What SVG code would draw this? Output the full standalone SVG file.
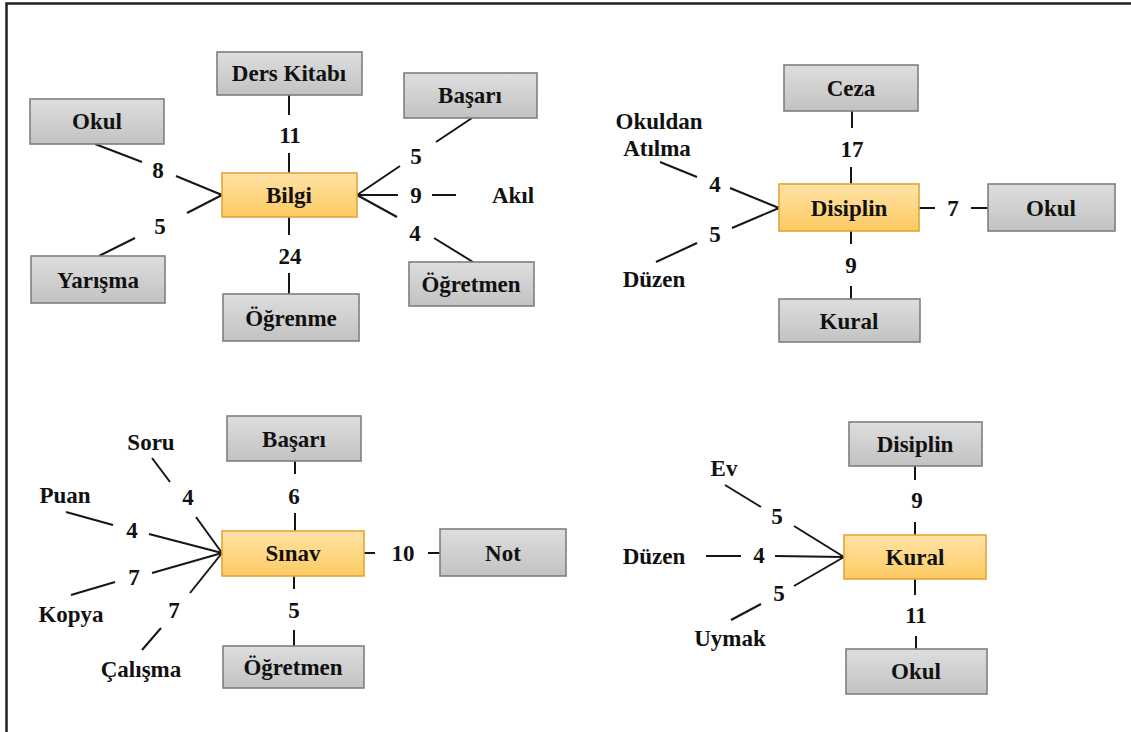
<svg xmlns="http://www.w3.org/2000/svg" width="1131" height="732" viewBox="0 0 1131 732" font-family="'Liberation Serif', 'DejaVu Serif', 'Times New Roman', serif">
<defs>
<linearGradient id="gGray" x1="0" y1="0" x2="0" y2="1">
<stop offset="0" stop-color="#dedede"/>
<stop offset="1" stop-color="#c2c2c2"/>
</linearGradient>
<linearGradient id="gOrange" x1="0" y1="0" x2="0" y2="1">
<stop offset="0" stop-color="#ffe3a6"/>
<stop offset="1" stop-color="#fdca62"/>
</linearGradient>
</defs>
<style>
.box{fill:url(#gGray);stroke:#7f7f7f;stroke-width:1.6}
.hub{fill:url(#gOrange);stroke:#e3a43a;stroke-width:1.6}
text{font-family:'Liberation Serif','DejaVu Serif','Times New Roman',serif;font-weight:bold;font-size:23px;fill:#111;text-anchor:middle;dominant-baseline:central}
.c line{stroke:#161616;stroke-width:2}
.frame{stroke:#222;stroke-width:2.5;fill:none}
</style>
<rect x="0" y="0" width="1131" height="732" fill="#fff"/>
<path class="frame" d="M6.5 732 V3.5 H1131"/>

<g id="connectors" class="c">
<line x1="289" y1="95" x2="289" y2="115"/>
<line x1="289" y1="153" x2="289" y2="173"/>
<line x1="289" y1="217" x2="289" y2="235"/>
<line x1="289" y1="273" x2="289" y2="294"/>
<line x1="95" y1="144" x2="142" y2="162"/>
<line x1="176" y1="176" x2="222" y2="195"/>
<line x1="222" y1="195" x2="187" y2="213"/>
<line x1="135" y1="238" x2="99" y2="256"/>
<line x1="472" y1="118" x2="436" y2="142"/>
<line x1="400" y1="166" x2="357" y2="195"/>
<line x1="357" y1="195" x2="398" y2="195"/>
<line x1="432" y1="195" x2="456" y2="195"/>
<line x1="357" y1="195" x2="397" y2="217"/>
<line x1="434" y1="238" x2="473" y2="262"/>
<line x1="852" y1="111" x2="852" y2="128"/>
<line x1="851" y1="167" x2="851" y2="184"/>
<line x1="851" y1="231" x2="851" y2="244"/>
<line x1="851" y1="286" x2="851" y2="299"/>
<line x1="919" y1="208" x2="935" y2="208"/>
<line x1="971" y1="208" x2="988" y2="208"/>
<line x1="660" y1="162" x2="697" y2="177"/>
<line x1="730" y1="188" x2="779" y2="208"/>
<line x1="779" y1="208" x2="732" y2="228"/>
<line x1="697" y1="243" x2="656" y2="262"/>
<line x1="152" y1="458" x2="170" y2="482"/>
<line x1="196" y1="517" x2="222" y2="553"/>
<line x1="66" y1="512" x2="113" y2="525"/>
<line x1="149" y1="534" x2="222" y2="553"/>
<line x1="71" y1="595" x2="115" y2="582"/>
<line x1="152" y1="573" x2="222" y2="553"/>
<line x1="142" y1="650" x2="161" y2="628"/>
<line x1="190" y1="593" x2="222" y2="553"/>
<line x1="295" y1="461" x2="295" y2="474"/>
<line x1="295" y1="513" x2="295" y2="531"/>
<line x1="294" y1="576" x2="294" y2="589"/>
<line x1="294" y1="630" x2="294" y2="646"/>
<line x1="364" y1="553" x2="375" y2="553"/>
<line x1="428" y1="553" x2="440" y2="553"/>
<line x1="725" y1="485" x2="761" y2="507"/>
<line x1="794" y1="526" x2="844" y2="557"/>
<line x1="706" y1="556" x2="741" y2="556"/>
<line x1="775" y1="556" x2="844" y2="557"/>
<line x1="731" y1="620" x2="761" y2="604"/>
<line x1="794" y1="586" x2="844" y2="557"/>
<line x1="915" y1="466" x2="915" y2="480"/>
<line x1="915" y1="522" x2="915" y2="535"/>
<line x1="915" y1="579" x2="915" y2="595"/>
<line x1="916" y1="636" x2="916" y2="649"/>
</g>

<g id="edge-labels">
<text x="290" y="135">11</text>
<text x="158" y="170">8</text>
<text x="160" y="226">5</text>
<text x="416" y="156">5</text>
<text x="416" y="195">9</text>
<text x="415" y="233">4</text>
<text x="290" y="256">24</text>
<text x="715" y="184">4</text>
<text x="715" y="234">5</text>
<text x="852" y="149">17</text>
<text x="851" y="265">9</text>
<text x="953" y="208">7</text>
<text x="188" y="497">4</text>
<text x="132" y="530">4</text>
<text x="134" y="577">7</text>
<text x="174" y="610">7</text>
<text x="294" y="496">6</text>
<text x="403" y="553">10</text>
<text x="294" y="610">5</text>
<text x="777" y="516">5</text>
<text x="759" y="555">4</text>
<text x="779" y="593">5</text>
<text x="917" y="500">9</text>
<text x="916" y="615">11</text>
</g>

<g id="n-bilgi"><rect class="hub" x="222" y="173" width="135" height="44"/><text x="289" y="195">Bilgi</text></g>
<g id="n-ders-kitabi"><rect class="box" x="217" y="52" width="145" height="43"/><text x="289" y="73">Ders Kitabı</text></g>
<g id="n-okul-1"><rect class="box" x="30" y="99" width="134" height="45"/><text x="97" y="121">Okul</text></g>
<g id="n-basari-1"><rect class="box" x="404" y="73" width="133" height="45"/><text x="470" y="95">Başarı</text></g>
<g id="n-yarisma"><rect class="box" x="31" y="256" width="134" height="47"/><text x="98" y="280">Yarışma</text></g>
<g id="n-ogretmen-1"><rect class="box" x="409" y="262" width="125" height="44"/><text x="471" y="284">Öğretmen</text></g>
<g id="n-ogrenme"><rect class="box" x="223" y="294" width="136" height="47"/><text x="291" y="318">Öğrenme</text></g>
<g id="n-akil"><text x="513" y="195">Akıl</text></g>

<g id="n-disiplin"><rect class="hub" x="779" y="184" width="140" height="47"/><text x="849" y="208">Disiplin</text></g>
<g id="n-ceza"><rect class="box" x="784" y="65" width="134" height="46"/><text x="851" y="88">Ceza</text></g>
<g id="n-okul-2"><rect class="box" x="988" y="184" width="127" height="47"/><text x="1051" y="208">Okul</text></g>
<g id="n-kural-1"><rect class="box" x="779" y="299" width="141" height="43"/><text x="849" y="321">Kural</text></g>
<g id="n-okuldan-atilma"><text x="659" y="121">Okuldan</text><text x="657" y="148">Atılma</text></g>
<g id="n-duzen-1"><text x="654" y="279">Düzen</text></g>

<g id="n-sinav"><rect class="hub" x="222" y="531" width="142" height="45"/><text x="293" y="553">Sınav</text></g>
<g id="n-basari-2"><rect class="box" x="227" y="416" width="134" height="45"/><text x="294" y="439">Başarı</text></g>
<g id="n-not"><rect class="box" x="440" y="529" width="126" height="47"/><text x="503" y="553">Not</text></g>
<g id="n-ogretmen-2"><rect class="box" x="223" y="646" width="141" height="42"/><text x="293" y="667">Öğretmen</text></g>
<g id="n-soru"><text x="151" y="442">Soru</text></g>
<g id="n-puan"><text x="65" y="495">Puan</text></g>
<g id="n-kopya"><text x="71" y="614">Kopya</text></g>
<g id="n-calisma"><text x="141" y="669">Çalışma</text></g>

<g id="n-kural-2"><rect class="hub" x="844" y="535" width="142" height="44"/><text x="915" y="557">Kural</text></g>
<g id="n-disiplin-2"><rect class="box" x="849" y="422" width="133" height="44"/><text x="915" y="444">Disiplin</text></g>
<g id="n-okul-3"><rect class="box" x="846" y="649" width="141" height="45"/><text x="916" y="671">Okul</text></g>
<g id="n-ev"><text x="724" y="468">Ev</text></g>
<g id="n-duzen-2"><text x="654" y="556">Düzen</text></g>
<g id="n-uymak"><text x="730" y="638">Uymak</text></g>
</svg>
